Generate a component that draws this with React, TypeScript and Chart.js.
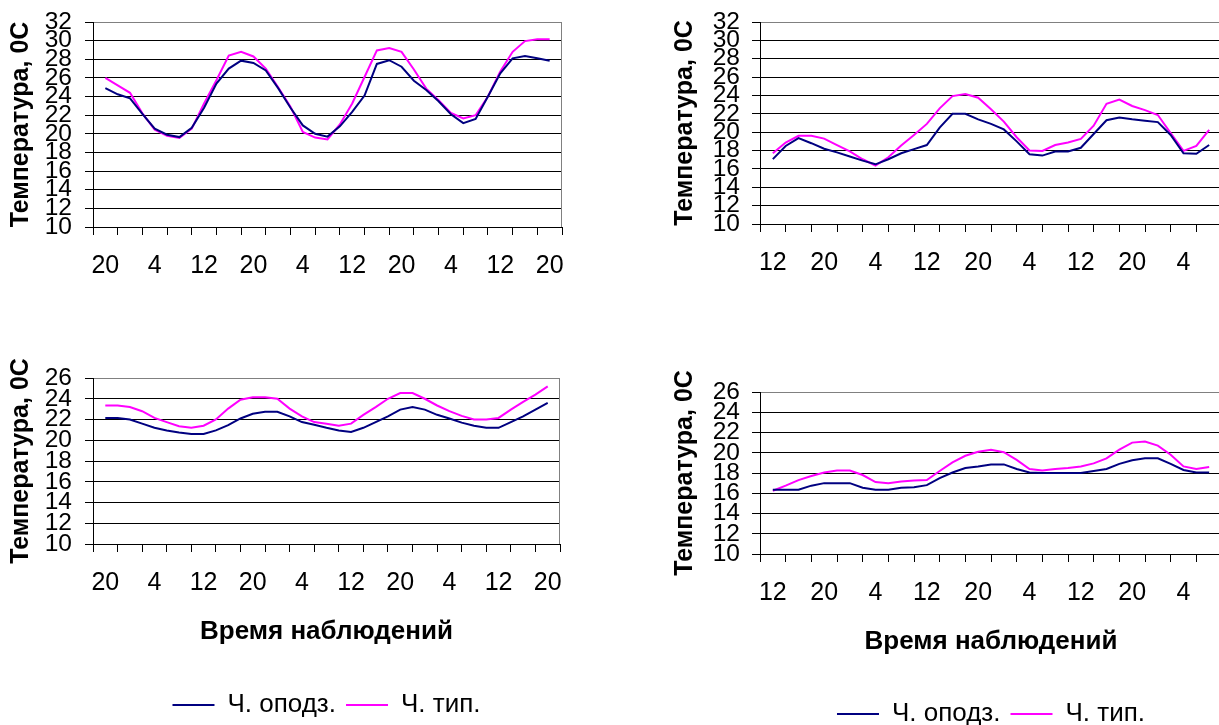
import React, { useEffect, useRef } from 'react';
import { Chart, registerables } from 'chart.js';

Chart.register(...registerables);

// ---------- data ----------
const STEP_H = 2; // hours between observations

// tick labels (every 8 hours, at category centres)
const hourLabelsA = ['20', '4', '12', '20', '4', '12', '20', '4', '12', '20'];
const hourLabelsB = ['12', '20', '4', '12', '20', '4', '12', '20', '4'];

const seriesNames = ['Ч. оподз.', 'Ч. тип.'];

// Chart 1 (top left), starts 20:00
const lateA = [24.9, 24.24, 23.8, 22.15, 20.55, 19.9, 19.65, 20.65, 22.8, 25.4, 27.0, 27.85, 27.6, 26.8, 24.9, 22.8, 20.9, 20.0, 19.7, 20.8, 22.35, 24.1, 27.5, 27.9, 27.2, 25.7, 24.7, 23.5, 22.1, 21.15, 21.6, 24.0, 26.5, 28.1, 28.35, 28.1, 27.85];
const typA = [26.0, 25.2, 24.4, 22.2, 20.45, 19.8, 19.55, 20.55, 23.25, 25.75, 28.4, 28.8, 28.3, 27.0, 25.0, 22.9, 20.2, 19.6, 19.4, 21.0, 23.25, 26.1, 28.95, 29.2, 28.8, 26.9, 24.85, 23.6, 22.25, 21.65, 22.0, 24.0, 26.7, 28.8, 29.95, 30.15, 30.15];

// Chart 2 (top right), starts 12:00
const lateB = [17.06, 18.5, 19.35, 18.8, 18.2, 17.8, 17.35, 16.9, 16.5, 17.05, 17.7, 18.15, 18.6, 20.5, 22.0, 22.0, 21.4, 20.9, 20.3, 19.0, 17.6, 17.45, 17.9, 17.9, 18.3, 19.8, 21.3, 21.6, 21.4, 21.25, 21.1, 19.7, 17.7, 17.65, 18.6];
const typB = [17.7, 18.87, 19.6, 19.6, 19.3, 18.6, 17.9, 17.05, 16.37, 17.27, 18.54, 19.7, 20.9, 22.6, 23.93, 24.15, 23.75, 22.5, 21.15, 19.45, 18.0, 17.96, 18.6, 18.87, 19.26, 20.7, 23.1, 23.55, 22.85, 22.4, 21.87, 19.9, 17.96, 18.5, 20.24];

// Chart 3 (bottom left), starts 20:00
const lateC = [22.15, 22.15, 22.0, 21.6, 21.2, 20.95, 20.75, 20.6, 20.6, 20.95, 21.45, 22.1, 22.55, 22.75, 22.75, 22.3, 21.75, 21.5, 21.2, 20.95, 20.8, 21.2, 21.75, 22.3, 22.95, 23.2, 22.95, 22.45, 22.1, 21.7, 21.4, 21.2, 21.2, 21.75, 22.3, 22.95, 23.6];
const typC = [23.35, 23.35, 23.2, 22.8, 22.15, 21.75, 21.35, 21.2, 21.4, 22.0, 23.05, 23.9, 24.15, 24.15, 24.0, 23.05, 22.3, 21.75, 21.6, 21.4, 21.6, 22.45, 23.2, 24.0, 24.55, 24.55, 24.0, 23.35, 22.8, 22.35, 22.0, 22.0, 22.15, 22.95, 23.7, 24.4, 25.2];

// Chart 4 (bottom right), starts 12:00
const lateD = [16.35, 16.35, 16.35, 16.75, 17.0, 17.0, 17.0, 16.55, 16.35, 16.35, 16.55, 16.6, 16.8, 17.5, 18.05, 18.5, 18.65, 18.85, 18.85, 18.4, 18.05, 18.0, 18.0, 18.0, 18.0, 18.2, 18.4, 18.9, 19.25, 19.45, 19.45, 18.9, 18.3, 18.05, 18.05];
const typD = [16.25, 16.75, 17.3, 17.7, 18.05, 18.25, 18.25, 17.8, 17.1, 17.0, 17.15, 17.25, 17.3, 18.2, 19.05, 19.7, 20.1, 20.3, 20.05, 19.3, 18.4, 18.25, 18.4, 18.5, 18.65, 18.95, 19.45, 20.3, 21.0, 21.1, 20.7, 19.8, 18.65, 18.4, 18.6];

// ---------- styles ----------
const NAVY = '#000080';
const MAGENTA = '#FF00FF';
const NARROW = '"Liberation Sans Narrow", "Arial Narrow", "Liberation Sans", Arial, sans-serif';
const SANS = '"Liberation Sans", Arial, sans-serif';
const Y_TITLE = 'Температура, 0С';
const X_TITLE = 'Время наблюдений';

type Geo = {
  left: number; top: number; width: number; height: number;
  padTop: number; padRight: number; yWidth: number; xHeight: number;
  yTitlePad: number; yTickPad: number; xTitlePad: number;
};

const framePlugin = {
  id: 'frameRight',
  beforeDatasetsDraw(chart: any) {
    const { ctx, chartArea } = chart;
    const x = Math.round(chartArea.right) - 0.5;
    ctx.save();
    ctx.strokeStyle = '#808080';
    ctx.lineWidth = 1;
    ctx.beginPath();
    ctx.moveTo(x, Math.round(chartArea.top));
    ctx.lineTo(x, Math.round(chartArea.bottom));
    ctx.stroke();
    ctx.restore();
  },
};

type Props = {
  geo: Geo; late: number[]; typ: number[]; hourLabels: string[];
  yMax: number; xMax: number; bottom: boolean;
};

function TempChart({ geo, late, typ, hourLabels, yMax, xMax, bottom }: Props) {
  const ref = useRef<HTMLCanvasElement>(null);
  useEffect(() => {
    const toPts = (arr: number[]) => arr.map((y, i) => ({ x: i * STEP_H, y }));
    const chart = new Chart(ref.current as HTMLCanvasElement, {
      type: 'line',
      data: {
        datasets: [
          { label: seriesNames[0], data: toPts(late), borderColor: NAVY, backgroundColor: NAVY, borderWidth: 2, pointRadius: 0, tension: 0 },
          { label: seriesNames[1], data: toPts(typ), borderColor: MAGENTA, backgroundColor: MAGENTA, borderWidth: 2, pointRadius: 0, tension: 0 },
        ],
      },
      options: {
        responsive: false,
        animation: false,
        devicePixelRatio: 1,
        events: [],
        layout: { padding: { top: geo.padTop, right: geo.padRight, bottom: 0, left: 0 } },
        plugins: {
          tooltip: { enabled: false },
          legend: bottom
            ? {
                display: true,
                position: 'bottom',
                fullSize: false,
                align: 'center',
                labels: {
                  usePointStyle: true,
                  pointStyle: 'line',
                  pointStyleWidth: 42,
                  padding: 10,
                  color: '#000',
                  font: { family: SANS, size: 26 },
                },
              }
            : { display: false },
        },
        scales: {
          x: {
            type: 'linear',
            min: -2,
            max: xMax,
            afterBuildTicks: (s: any) => {
              const t: any[] = [];
              for (let v = -2; v <= xMax; v += 2) t.push({ value: v });
              s.ticks = t;
            },
            afterFit: (s: any) => { s.height = geo.xHeight; },
            grid: {
              drawOnChartArea: false,
              drawTicks: true,
              tickLength: 8,
              tickWidth: 1,
              tickColor: (c: any) => (((c.tick.value + 2) % 4 === 0) ? '#000' : 'rgba(0,0,0,0)'),
            },
            border: { color: '#000', width: 1 },
            ticks: {
              autoSkip: false,
              maxRotation: 0,
              minRotation: 0,
              padding: 16,
              color: '#000',
              font: { family: SANS, size: 25 },
              callback: (v: any) => (v % 8 === 0 ? (hourLabels[v / 8] ?? '') : ''),
            },
            title: bottom
              ? { display: true, text: X_TITLE, color: '#000', font: { family: SANS, size: 26, weight: 'bold' }, padding: { top: 0, bottom: geo.xTitlePad } }
              : { display: false },
          },
          y: {
            min: 10,
            max: yMax,
            afterFit: (s: any) => { s.width = geo.yWidth; },
            grid: {
              color: (c: any) => (c.tick && c.tick.value === yMax ? '#808080' : '#000'),
              lineWidth: 1,
              drawTicks: true,
              tickLength: 8,
              tickColor: '#000',
            },
            border: { color: '#000', width: 1 },
            ticks: {
              stepSize: 2,
              autoSkip: false,
              padding: geo.yTickPad,
              color: '#000',
              font: { family: NARROW, size: 24.5 },
            },
            title: { display: true, text: Y_TITLE, color: '#000', font: { family: SANS, size: 25, weight: 'bold' }, padding: { top: geo.yTitlePad, bottom: 0 } },
          },
        },
      } as any,
      plugins: [framePlugin],
    });
    return () => chart.destroy();
  }, []);
  return (
    <canvas
      ref={ref}
      width={geo.width}
      height={geo.height}
      style={{ position: 'absolute', left: geo.left, top: geo.top, width: geo.width, height: geo.height, display: 'block' }}
    />
  );
}

// plot areas: #1 93..562 x 22..227, #2 760..1222 x 22..224, #3 93..560 x 378..544, #4 760..1222 x 392..554
const geo1: Geo = { left: 0, top: -8, width: 578, height: 308, padTop: 30, padRight: 16, yWidth: 93, xHeight: 73, yTitlePad: 6, yTickPad: 13, xTitlePad: 0 };
const geo2: Geo = { left: 660, top: -8, width: 578, height: 308, padTop: 30, padRight: 16, yWidth: 100, xHeight: 76, yTitlePad: 10, yTickPad: 12, xTitlePad: 0 };
const geo3: Geo = { left: 0, top: 348, width: 576, height: 380, padTop: 30, padRight: 16, yWidth: 93, xHeight: 138, yTitlePad: 6, yTickPad: 13, xTitlePad: 35 };
const geo4: Geo = { left: 660, top: 362, width: 578, height: 375, padTop: 30, padRight: 16, yWidth: 100, xHeight: 137, yTitlePad: 10, yTickPad: 12, xTitlePad: 34 };

export default function App() {
  return (
    <div style={{ position: 'fixed', left: 0, top: 0, width: 1219, height: 725, overflow: 'hidden', background: '#fff' }}>
      <TempChart geo={geo1} late={lateA} typ={typA} hourLabels={hourLabelsA} yMax={32} xMax={74} bottom={false} />
      <TempChart geo={geo2} late={lateB} typ={typB} hourLabels={hourLabelsB} yMax={32} xMax={70} bottom={false} />
      <TempChart geo={geo3} late={lateC} typ={typC} hourLabels={hourLabelsA} yMax={26} xMax={74} bottom={true} />
      <TempChart geo={geo4} late={lateD} typ={typD} hourLabels={hourLabelsB} yMax={26} xMax={70} bottom={true} />
    </div>
  );
}
